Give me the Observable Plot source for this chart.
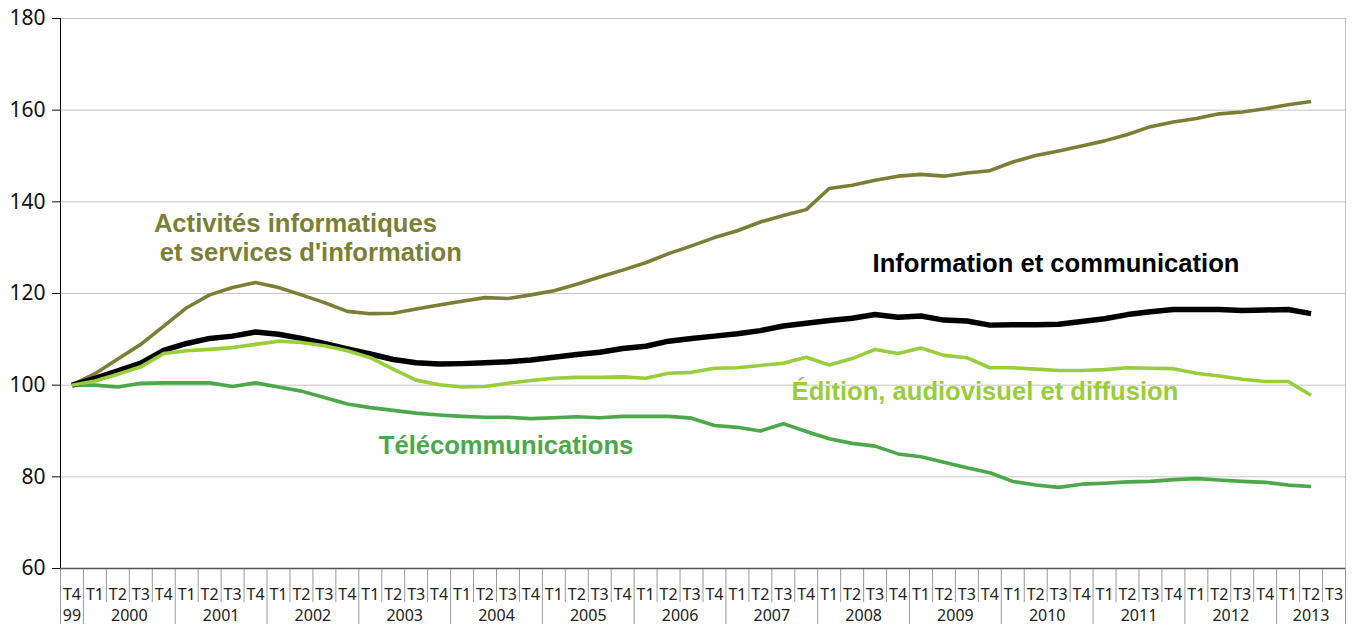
<!DOCTYPE html>
<html><head><meta charset="utf-8">
<script src="https://cdn.jsdelivr.net/npm/d3@7"></script>
<script src="https://cdn.jsdelivr.net/npm/@observablehq/plot@0.6"></script>
<style>body{margin:0;background:#fff}</style>
</head><body><div id="chart"></div>
<script>
// Periods (quarters) from T4 1999 to T3 2013
const quarterLabels = ["T4"].concat(...Array.from({length: 13}, () => ["T1","T2","T3","T4"]), ["T1","T2","T3"]);
const yearLabels = ["99","2000","2001","2002","2003","2004","2005","2006","2007","2008","2009","2010","2011","2012","2013"];
const yTicks = [60, 80, 100, 120, 140, 160, 180];

// Series (index base 100 at T4 1999)
const activitesInformatiques = [100,102.5,105.7,108.9,112.9,116.9,119.7,121.3,122.4,121.3,119.7,118.0,116.1,115.6,115.7,116.6,117.5,118.3,119.1,118.9,119.7,120.6,122.0,123.6,125.1,126.7,128.7,130.4,132.2,133.7,135.6,137.0,138.3,142.9,143.6,144.7,145.6,146.0,145.6,146.3,146.8,148.7,150.1,151.1,152.2,153.3,154.7,156.4,157.4,158.2,159.2,159.6,160.3,161.2,161.9];
const informationCommunication = [100,101.5,103.1,104.8,107.6,109.1,110.2,110.7,111.6,111.1,110.2,109.1,107.9,106.8,105.6,104.9,104.6,104.7,104.9,105.1,105.5,106.1,106.7,107.2,108.0,108.5,109.6,110.2,110.7,111.2,111.9,112.9,113.5,114.1,114.6,115.4,114.8,115.1,114.2,114.0,113.1,113.2,113.2,113.3,113.9,114.5,115.4,116.0,116.5,116.5,116.5,116.3,116.4,116.5,115.6];
const editionAudiovisuel = [100,100.9,102.4,104.0,106.9,107.5,107.8,108.2,108.9,109.6,109.3,108.6,107.5,106.0,103.5,101.1,100.1,99.6,99.7,100.4,101.0,101.5,101.7,101.7,101.8,101.5,102.6,102.8,103.7,103.8,104.3,104.8,106.1,104.4,105.8,107.8,106.9,108.1,106.5,106.0,103.8,103.8,103.5,103.2,103.2,103.4,103.8,103.7,103.6,102.6,102.0,101.3,100.8,100.8,97.8];
const telecommunications = [100,100,99.6,100.4,100.5,100.5,100.5,99.7,100.5,99.6,98.7,97.3,95.9,95.1,94.5,93.9,93.5,93.2,93.0,93.0,92.7,92.9,93.1,92.9,93.2,93.2,93.2,92.8,91.2,90.8,90.0,91.6,89.9,88.3,87.3,86.7,85.0,84.4,83.2,82.0,80.9,79.0,78.2,77.7,78.4,78.6,78.9,79.0,79.4,79.6,79.3,79.0,78.8,78.2,77.9];

// Series labels (annotations)
const labelTexts = ["Activités informatiques", "et services d'information", "Information et communication", "Édition, audiovisuel et diffusion", "Télécommunications"];
const labelX = [4.07, 4.33, 35.39, 31.86, 13.87];
const labelY = [135.2, 128.95, 126.5, 98.6, 86.8];

const cOlive = "#7b7f35", cBlack = "#000000", cLight = "#9acd3c", cGreen = "#4ca84a";
const labelColors = [cOlive, cOlive, cBlack, cLight, cGreen];
const labels = labelTexts.map((t, k) => ({text: t, x: labelX[k], y: labelY[k], color: labelColors[k]}));

const n = quarterLabels.length;
const yearBounds = [0];
quarterLabels.forEach((q, i) => { if (q === "T1") yearBounds.push(i); });
yearBounds.push(n);
const yearCenters = yearLabels.map((y, k) => (yearBounds[k] + yearBounds[k + 1]) / 2);
const quarterCenters = quarterLabels.map((q, i) => i + 0.5);
const quarterBounds = d3.range(1, n).filter(i => !yearBounds.includes(i));

const lineOpts = (color, w) => ({x: (d, i) => i + 0.5, y: d => d, stroke: color, strokeWidth: w, strokeLinejoin: "round", strokeLinecap: "butt"});

const chart = Plot.plot({
  width: 1360, height: 624,
  marginLeft: 60, marginRight: 15, marginTop: 18, marginBottom: 56,
  style: {fontFamily: "'Noto Sans', sans-serif", background: "#fff", overflow: "visible"},
  x: {domain: [0, n], axis: null, label: null},
  y: {domain: [60, 180], axis: null, label: null},
  marks: [
    Plot.gridY(yTicks.filter(v => v > 60), {stroke: "#c4c4c4", strokeOpacity: 1}),
    Plot.axisX(quarterBounds, {anchor: "bottom", label: null, tickSize: 34, tickFormat: () => "", stroke: "#9a9a9a"}),
    Plot.axisX(yearBounds, {anchor: "bottom", label: null, tickSize: 58, tickFormat: () => "", stroke: "#9a9a9a"}),
    Plot.ruleX([n], {stroke: "#c4c4c4"}),
    Plot.axisX(quarterCenters, {anchor: "bottom", label: null, tickSize: 0, tickPadding: 20, fontSize: 16, color: "#222",
      tickFormat: d => quarterLabels[Math.floor(d)]}),
    Plot.axisX(yearCenters, {anchor: "bottom", label: null, tickSize: 0, tickPadding: 41, fontSize: 16, color: "#222",
      tickFormat: d => yearLabels[yearCenters.indexOf(d)]}),
    Plot.axisY(yTicks, {anchor: "left", label: null, tickSize: 8, tickPadding: 7, fontSize: 21, color: "#111"}),
    Plot.ruleY([60], {stroke: "#555", strokeWidth: 1.5}),
    Plot.ruleX([0], {stroke: "#000"}),
    Plot.line(activitesInformatiques, lineOpts(cOlive, 3.6)),
    Plot.line(telecommunications, lineOpts(cGreen, 3.6)),
    Plot.line(informationCommunication, lineOpts(cBlack, 5.5)),
    Plot.line(editionAudiovisuel, lineOpts(cLight, 3.6)),
    Plot.text(labels, {x: "x", y: "y", text: "text", fill: "color", textAnchor: "start", fontSize: 25.6,
      fontWeight: "bold", fontFamily: "'Liberation Sans', Arial, sans-serif"})
  ]
});
document.getElementById("chart").appendChild(chart);
</script>
</body></html>
